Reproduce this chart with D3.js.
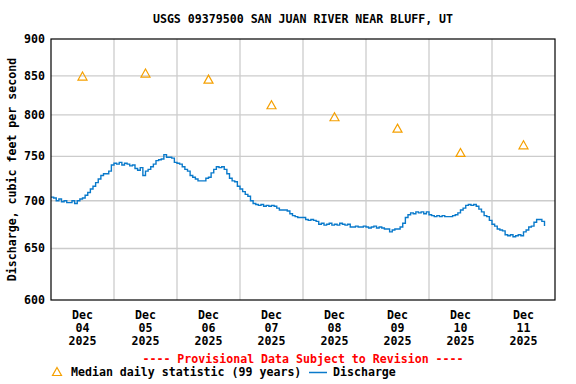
<!DOCTYPE html>
<html>
<head>
<meta charset="utf-8">
<script src="https://cdn.jsdelivr.net/npm/d3@7"></script>
<style>
  html, body { margin: 0; padding: 0; background: #fff; }
  svg { display: block; }
  text { font-family: "DejaVu Sans Mono", monospace; font-weight: bold; font-size: 11.6px; letter-spacing: 0px; fill: #000; }
</style>
</head>
<body>
<svg id="chart" width="576" height="384"></svg>
<script>
// ---- Data ----
const titleText = "USGS 09379500 SAN JUAN RIVER NEAR BLUFF, UT";
const yAxisLabel = "Discharge, cubic feet per second";
const yTicks = [600, 650, 700, 750, 800, 850, 900];
const dayLabels = ["04", "05", "06", "07", "08", "09", "10", "11"];
const monthLabel = "Dec";
const yearLabel = "2025";
// Median daily statistic (99 years), at noon of each day
const medianDays = [4, 5, 6, 7, 8, 9, 10, 11];
const medianValues = [849, 853, 845, 812, 797, 783, 754, 763];
// Discharge, hourly readings starting Dec 4 2025 00:00
const discharge = [
  704,703,700,702,699,700,698,698,700,697,700,702,703,706,709,713,716,720,724,728,730,730,733,740,
  742,741,743,740,742,741,739,740,736,734,737,728,733,735,738,741,745,746,747,752,749,749,748,743,
  742,741,738,735,733,728,726,724,722,722,722,725,726,731,735,738,737,738,735,730,725,722,721,716,
  713,710,707,705,700,697,696,695,696,694,695,694,695,694,692,690,690,690,689,686,684,683,682,682,
  682,680,679,680,679,678,675,676,674,675,676,674,675,674,676,675,674,675,672,672,673,672,672,673,
  672,671,672,673,671,672,671,670,670,667,669,670,670,672,676,682,685,687,686,688,687,688,686,688,
  685,684,683,684,683,684,683,683,683,684,685,687,690,692,695,696,695,696,694,691,688,684,683,679,
  675,673,670,669,668,664,663,664,662,663,664,663,667,669,672,673,677,680,680,678,673
];
const provisionalText = "---- Provisional Data Subject to Revision ----";
const legendMedian = "Median daily statistic (99 years)";
const legendDischarge = "Discharge";

// ---- Chart ----
const svg = d3.select("#chart");
const mLeft = 51, mRight = 555, mTop = 39, mBottom = 300;
const t0 = new Date(2025, 11, 4, 0, 0);
const t1 = new Date(2025, 11, 12, 0, 0);
const x = d3.scaleTime().domain([t0, t1]).range([mLeft, mRight]);
const y = d3.scaleLog().domain([600, 900]).range([mBottom, mTop]);

// gridlines
const grid = svg.append("g");
const gridDays = d3.range(5, 12).map(d => new Date(2025, 11, d, 0, 0));
grid.selectAll("line.v").data(gridDays).enter().append("line")
  .attr("x1", d => x(d)).attr("x2", d => x(d))
  .attr("y1", mTop).attr("y2", mBottom)
  .attr("stroke", "#cccccc").attr("stroke-width", 1.3);
grid.selectAll("line.h").data(yTicks.filter(v => v > 600 && v < 900)).enter().append("line")
  .attr("x1", mLeft).attr("x2", mRight)
  .attr("y1", d => y(d)).attr("y2", d => y(d))
  .attr("stroke", "#cccccc").attr("stroke-width", 1.3);

// discharge line
const pts = discharge.map((v, i) => ({ t: new Date(t0.getTime() + i * 3600000), v }));
const line = d3.line().x(d => x(d.t)).y(d => y(d.v)).curve(d3.curveStepAfter);
svg.append("path").datum(pts)
  .attr("d", line)
  .attr("fill", "none").attr("stroke", "#0a7acb").attr("stroke-width", 1.4);

// median triangles
const tri = "M0,-4.5 L4.5,3.5 L-4.5,3.5 Z";
svg.append("g").selectAll("path").data(medianDays.map((d, i) => ({ t: new Date(2025, 11, d, 12, 0), v: medianValues[i] })))
  .enter().append("path")
  .attr("transform", d => `translate(${x(d.t)},${y(d.v)})`)
  .attr("d", tri).attr("fill", "none").attr("stroke", "#f5a000").attr("stroke-width", 1.2);

// frame
svg.append("rect").attr("x", mLeft).attr("y", mTop).attr("width", mRight - mLeft).attr("height", mBottom - mTop)
  .attr("fill", "none").attr("stroke", "#000").attr("stroke-width", 1.2);

// y tick labels
svg.append("g").selectAll("text").data(yTicks).enter().append("text")
  .attr("x", mLeft - 6).attr("y", d => y(d) + 4)
  .attr("text-anchor", "end").text(d => d);

// y axis label
svg.append("text")
  .attr("transform", `translate(16,${(mTop + mBottom) / 2}) rotate(-90)`)
  .attr("text-anchor", "middle").text(yAxisLabel);

// x labels
const xl = svg.append("g").selectAll("g").data(dayLabels).enter().append("g")
  .attr("transform", (d, i) => `translate(${x(new Date(2025, 11, 4 + i, 12, 0))},0)`);
xl.append("text").attr("y", 318.5).attr("text-anchor", "middle").text(monthLabel);
xl.append("text").attr("y", 331.5).attr("text-anchor", "middle").text(d => d);
xl.append("text").attr("y", 345).attr("text-anchor", "middle").text(yearLabel);

// title
svg.append("text").attr("x", (mLeft + mRight) / 2).attr("y", 23)
  .attr("text-anchor", "middle").text(titleText);

// provisional
svg.append("text").attr("x", (mLeft + mRight) / 2).attr("y", 363)
  .attr("text-anchor", "middle").style("fill", "#ff0000").text(provisionalText);

// legend
svg.append("path").attr("transform", "translate(57,372)").attr("d", tri)
  .attr("fill", "none").attr("stroke", "#f5a000").attr("stroke-width", 1.2);
svg.append("text").attr("x", 71).attr("y", 376).text(legendMedian);
svg.append("line").attr("x1", 309).attr("x2", 327).attr("y1", 372.5).attr("y2", 372.5)
  .attr("stroke", "#0a7acb").attr("stroke-width", 1.5);
svg.append("text").attr("x", 333).attr("y", 376).text(legendDischarge);
</script>
</body>
</html>
